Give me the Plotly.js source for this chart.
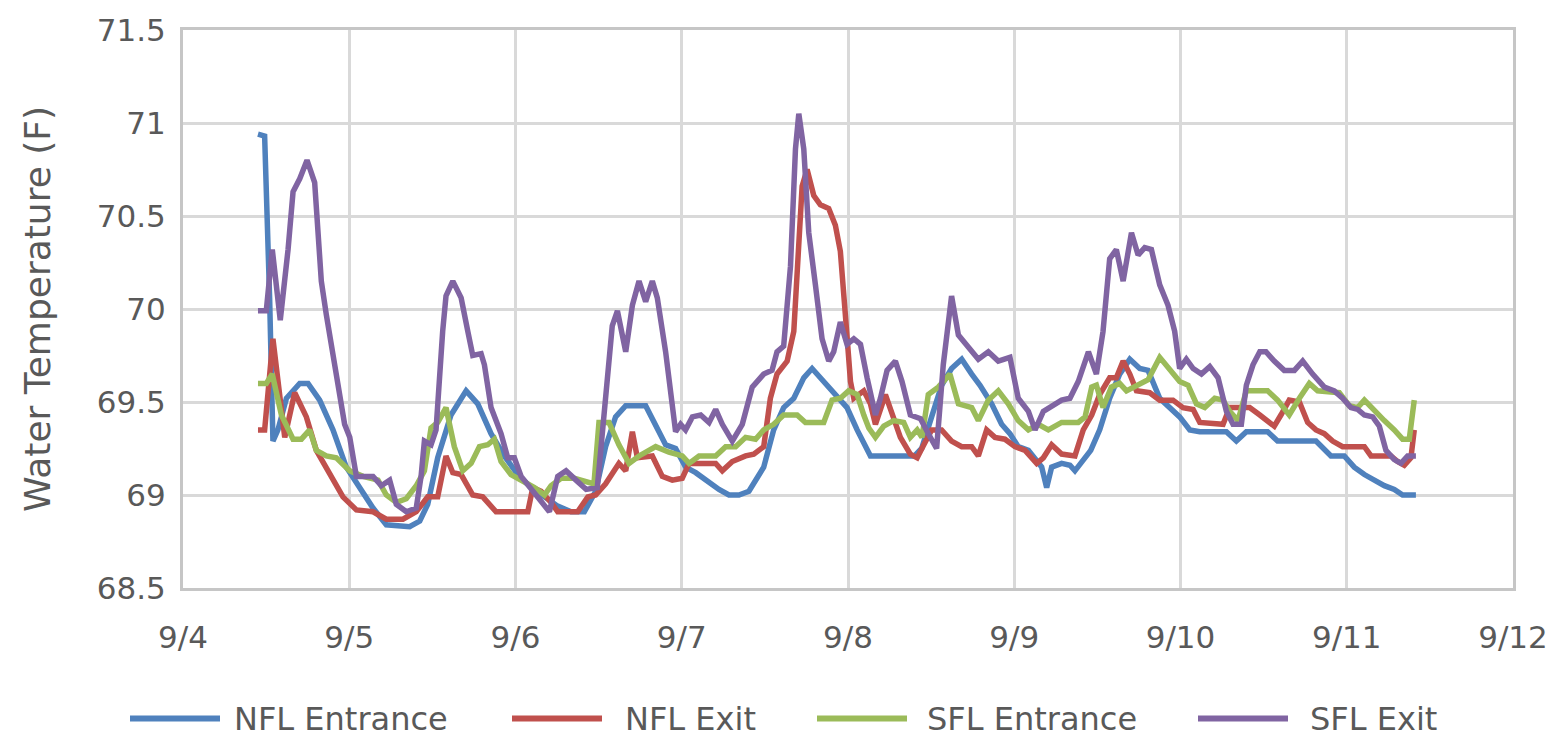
<!DOCTYPE html>
<html>
<head>
<meta charset="utf-8">
<script src="https://cdn.plot.ly/plotly-3.0.1.min.js"></script>
<style>html,body{margin:0;padding:0;background:#fff;}#chart{width:1561px;height:742px;}</style>
</head>
<body>
<div id="chart"></div>
<script>
// Time is in days after 9/4 00:00
const seriesNames = ['NFL Entrance', 'NFL Exit', 'SFL Entrance', 'SFL Exit'];
const seriesColors = ['#4F81BD', '#C0504D', '#9BBB59', '#8064A2'];
const xTickVals = [0, 1, 2, 3, 4, 5, 6, 7, 8];
const xTickLabels = ['9/4', '9/5', '9/6', '9/7', '9/8', '9/9', '9/10', '9/11', '9/12'];
const yTickVals = [68.5, 69, 69.5, 70, 70.5, 71, 71.5];
const yTickLabels = ['68.5', '69', '69.5', '70', '70.5', '71', '71.5'];

const nflEntranceT = [0.451,0.491,0.521,0.541,0.571,0.622,0.702,0.752,0.822,0.902,0.982,1.063,1.143,1.223,1.363,1.424,1.472,1.532,1.612,1.703,1.773,1.853,1.933,2.013,2.094,2.174,2.254,2.334,2.414,2.482,2.542,2.602,2.663,2.783,2.843,2.903,2.963,3.023,3.084,3.144,3.224,3.284,3.344,3.404,3.444,3.493,3.553,3.613,3.674,3.734,3.784,3.854,3.934,3.994,4.055,4.135,4.400,4.443,4.503,4.563,4.623,4.684,4.744,4.794,4.864,4.924,4.974,5.024,5.085,5.135,5.165,5.195,5.225,5.285,5.335,5.365,5.425,5.460,5.514,5.574,5.634,5.695,5.755,5.805,5.875,5.935,5.995,6.056,6.116,6.276,6.336,6.396,6.477,6.524,6.584,6.815,6.905,6.985,7.045,7.106,7.166,7.226,7.286,7.336,7.416];
const nflEntranceY = [70.94,70.93,70.06,69.29,69.35,69.52,69.60,69.60,69.51,69.35,69.15,69.04,68.93,68.84,68.83,68.86,68.95,69.20,69.43,69.56,69.49,69.33,69.21,69.11,69.04,68.99,68.94,68.91,68.91,69.02,69.26,69.42,69.48,69.48,69.38,69.27,69.25,69.15,69.12,69.08,69.03,69.00,69.00,69.02,69.08,69.15,69.35,69.47,69.52,69.63,69.68,69.61,69.54,69.47,69.35,69.21,69.21,69.25,69.42,69.59,69.68,69.73,69.65,69.59,69.49,69.38,69.33,69.26,69.24,69.18,69.15,69.04,69.15,69.17,69.16,69.13,69.20,69.24,69.35,69.52,69.65,69.73,69.68,69.67,69.52,69.47,69.42,69.35,69.34,69.34,69.29,69.34,69.34,69.34,69.29,69.29,69.21,69.21,69.15,69.11,69.08,69.05,69.03,69.00,69.00];

const nflExitT = [0.451,0.491,0.541,0.612,0.672,0.742,0.802,0.882,0.962,1.043,1.143,1.223,1.323,1.403,1.472,1.532,1.582,1.623,1.673,1.743,1.803,1.883,2.074,2.104,2.154,2.214,2.254,2.374,2.435,2.482,2.542,2.622,2.663,2.703,2.733,2.823,2.883,2.943,3.003,3.044,3.204,3.244,3.304,3.384,3.433,3.493,3.533,3.573,3.634,3.674,3.694,3.724,3.754,3.794,3.834,3.884,3.924,3.954,3.984,4.015,4.035,4.095,4.135,4.165,4.225,4.275,4.315,4.375,4.416,4.456,4.503,4.563,4.623,4.684,4.744,4.784,4.834,4.884,4.944,5.004,5.065,5.135,5.175,5.225,5.285,5.365,5.415,5.466,5.514,5.574,5.614,5.655,5.695,5.735,5.815,5.875,5.955,6.015,6.076,6.116,6.256,6.296,6.416,6.477,6.564,6.604,6.654,6.715,6.765,6.815,6.865,6.915,6.975,7.106,7.146,7.266,7.306,7.346,7.386,7.406];
const nflExitY = [69.35,69.35,69.84,69.31,69.55,69.42,69.24,69.11,68.99,68.92,68.91,68.87,68.87,68.91,68.99,68.99,69.21,69.12,69.11,69.00,68.99,68.91,68.91,69.04,69.02,68.96,68.91,68.91,68.99,69.00,69.06,69.17,69.13,69.34,69.20,69.21,69.10,69.08,69.09,69.17,69.17,69.13,69.18,69.21,69.22,69.26,69.52,69.65,69.72,69.88,70.23,70.66,70.75,70.61,70.56,70.54,70.45,70.31,69.97,69.61,69.52,69.56,69.49,69.38,69.54,69.42,69.31,69.22,69.20,69.27,69.35,69.35,69.29,69.26,69.26,69.21,69.35,69.31,69.30,69.26,69.24,69.17,69.20,69.27,69.22,69.21,69.35,69.43,69.54,69.63,69.63,69.72,69.65,69.56,69.55,69.51,69.51,69.47,69.46,69.39,69.38,69.47,69.47,69.43,69.37,69.43,69.51,69.50,69.39,69.35,69.33,69.29,69.26,69.26,69.21,69.21,69.18,69.16,69.20,69.35];

const sflEntranceT = [0.451,0.501,0.537,0.592,0.662,0.712,0.762,0.802,0.862,0.922,1.003,1.083,1.173,1.223,1.283,1.343,1.403,1.452,1.492,1.532,1.582,1.632,1.683,1.733,1.783,1.833,1.873,1.913,1.973,2.034,2.114,2.174,2.214,2.274,2.354,2.472,2.502,2.562,2.622,2.683,2.743,2.843,2.923,3.003,3.044,3.104,3.204,3.264,3.324,3.384,3.444,3.493,3.553,3.613,3.694,3.744,3.854,3.904,3.954,4.004,4.055,4.095,4.125,4.165,4.215,4.275,4.335,4.375,4.416,4.445,4.483,4.543,4.613,4.664,4.744,4.784,4.844,4.904,4.964,5.024,5.085,5.145,5.205,5.285,5.385,5.426,5.466,5.494,5.534,5.584,5.634,5.675,5.735,5.805,5.875,5.935,5.995,6.046,6.096,6.146,6.206,6.256,6.296,6.346,6.396,6.477,6.524,6.584,6.654,6.715,6.775,6.825,6.955,7.015,7.066,7.106,7.166,7.226,7.286,7.336,7.376,7.406];
const sflEntranceY = [69.60,69.60,69.65,69.43,69.30,69.30,69.35,69.24,69.21,69.20,69.13,69.10,69.08,69.00,68.96,68.98,69.05,69.13,69.36,69.39,69.47,69.26,69.13,69.17,69.26,69.27,69.30,69.18,69.11,69.08,69.04,69.00,69.05,69.09,69.09,69.06,69.39,69.39,69.27,69.17,69.21,69.26,69.23,69.21,69.17,69.21,69.21,69.26,69.26,69.31,69.30,69.35,69.38,69.43,69.43,69.39,69.39,69.51,69.52,69.56,69.54,69.43,69.36,69.31,69.37,69.40,69.39,69.31,69.35,69.31,69.54,69.58,69.65,69.49,69.47,69.40,69.51,69.56,69.49,69.40,69.35,69.38,69.35,69.39,69.39,69.42,69.58,69.59,69.47,69.58,69.60,69.56,69.59,69.62,69.74,69.68,69.61,69.59,69.49,69.47,69.52,69.51,69.45,69.40,69.56,69.56,69.56,69.51,69.43,69.52,69.60,69.56,69.55,69.48,69.47,69.51,69.45,69.40,69.35,69.30,69.30,69.51];

const sflExitT = [0.451,0.501,0.537,0.585,0.632,0.662,0.702,0.746,0.792,0.832,0.862,0.922,0.972,1.003,1.043,1.143,1.193,1.243,1.283,1.343,1.403,1.432,1.452,1.492,1.522,1.562,1.582,1.623,1.673,1.713,1.743,1.793,1.813,1.853,1.913,1.953,1.993,2.034,2.094,2.154,2.204,2.254,2.304,2.364,2.425,2.492,2.542,2.582,2.613,2.663,2.703,2.743,2.783,2.823,2.853,2.903,2.963,2.993,3.023,3.064,3.114,3.164,3.204,3.244,3.304,3.364,3.424,3.493,3.543,3.573,3.613,3.654,3.684,3.704,3.734,3.764,3.804,3.844,3.884,3.914,3.954,3.994,4.035,4.075,4.115,4.165,4.195,4.235,4.285,4.325,4.375,4.436,4.483,4.533,4.573,4.623,4.664,4.724,4.784,4.844,4.904,4.974,5.024,5.085,5.125,5.175,5.245,5.285,5.335,5.385,5.446,5.494,5.534,5.574,5.614,5.655,5.705,5.745,5.785,5.825,5.875,5.925,5.965,5.995,6.035,6.076,6.126,6.176,6.226,6.276,6.316,6.366,6.396,6.436,6.477,6.514,6.564,6.624,6.685,6.735,6.795,6.865,6.925,6.975,7.025,7.066,7.106,7.156,7.196,7.236,7.286,7.326,7.366,7.416];
const sflExitY = [69.99,69.99,70.32,69.94,70.32,70.63,70.70,70.80,70.68,70.15,69.97,69.65,69.38,69.31,69.10,69.10,69.05,69.08,68.95,68.91,68.93,69.10,69.29,69.27,69.35,69.88,70.07,70.15,70.06,69.88,69.75,69.76,69.70,69.47,69.33,69.20,69.20,69.10,69.03,68.97,68.91,69.10,69.13,69.08,69.03,69.04,69.52,69.91,69.99,69.77,70.02,70.15,70.04,70.15,70.06,69.77,69.34,69.38,69.35,69.42,69.43,69.39,69.46,69.38,69.29,69.38,69.58,69.65,69.67,69.77,69.80,70.23,70.86,71.05,70.86,70.41,70.13,69.84,69.72,69.77,69.93,69.81,69.84,69.81,69.63,69.43,69.52,69.67,69.72,69.61,69.43,69.41,69.33,69.25,69.70,70.07,69.86,69.80,69.73,69.77,69.72,69.74,69.52,69.45,69.35,69.45,69.49,69.51,69.52,69.61,69.77,69.65,69.88,70.27,70.32,70.15,70.41,70.29,70.33,70.32,70.13,70.02,69.88,69.68,69.73,69.68,69.65,69.69,69.63,69.45,69.38,69.38,69.59,69.70,69.77,69.77,69.72,69.67,69.67,69.72,69.65,69.58,69.56,69.52,69.47,69.46,69.43,69.42,69.37,69.24,69.19,69.17,69.21,69.21];

const seriesT = [nflEntranceT, nflExitT, sflEntranceT, sflExitT];
const seriesY = [nflEntranceY, nflExitY, sflEntranceY, sflExitY];

const textColor = '#595959';
const fontFamily = 'DejaVu Sans, Verdana, sans-serif';

const traces = seriesNames.map((name, i) => ({
  type: 'scatter',
  mode: 'lines',
  name: name,
  x: seriesT[i],
  y: seriesY[i],
  line: {color: seriesColors[i], width: 5.5},
  showlegend: false,
  hoverinfo: 'x+y+name'
}));

// Plot area geometry in pixels (for the hand-drawn legend placement)
const plotL = 183, plotR = 1513, plotT = 24, plotB = 588;
const px2x = px => (px - plotL) / (plotR - plotL);
const py2y = py => (plotB - py) / (plotB - plotT);
const legendY = 720;
const legendLineStart = [130, 512, 817, 1198];
const legendLineLen = 90;
const legendTextStart = [232, 623, 925, 1308];

const shapes = seriesNames.map((n, i) => ({
  type: 'line', xref: 'paper', yref: 'paper',
  x0: px2x(legendLineStart[i]), x1: px2x(legendLineStart[i] + legendLineLen),
  y0: py2y(legendY), y1: py2y(legendY),
  line: {color: seriesColors[i], width: 6}
}));
const annotations = seriesNames.map((n, i) => ({
  xref: 'paper', yref: 'paper',
  x: px2x(legendTextStart[i]), y: py2y(legendY),
  xanchor: 'left', yanchor: 'middle',
  text: n, showarrow: false,
  font: {family: fontFamily, size: 32, color: textColor}
}));

const layout = {
  width: 1561, height: 742,
  margin: {l: plotL, r: 1561 - plotR, t: plotT, b: 742 - plotB, pad: 0},
  paper_bgcolor: '#ffffff', plot_bgcolor: '#ffffff',
  showlegend: false,
  xaxis: {
    range: [0, 8], tickmode: 'array', tickvals: xTickVals, ticktext: xTickLabels,
    showgrid: true, gridcolor: '#d9d9d9', gridwidth: 3, zeroline: false,
    showline: true, linecolor: '#c6c6c6', linewidth: 3, mirror: true,
    ticks: '', ticklabelstandoff: 20,
    tickfont: {family: fontFamily, size: 31, color: textColor}
  },
  yaxis: {
    range: [68.5, 71.5], tickmode: 'array', tickvals: yTickVals, ticktext: yTickLabels,
    showgrid: true, gridcolor: '#d9d9d9', gridwidth: 3, zeroline: false,
    showline: true, linecolor: '#c6c6c6', linewidth: 3, mirror: true,
    ticks: '', ticklabelstandoff: 8,
    tickfont: {family: fontFamily, size: 31, color: textColor},
    title: {text: 'Water Temperature (F)', font: {family: fontFamily, size: 36, color: textColor}, standoff: 36},
    automargin: true
  },
  shapes: shapes,
  annotations: annotations
};

Plotly.newPlot('chart', traces, layout, {displayModeBar: false, staticPlot: true});
</script>
</body>
</html>
